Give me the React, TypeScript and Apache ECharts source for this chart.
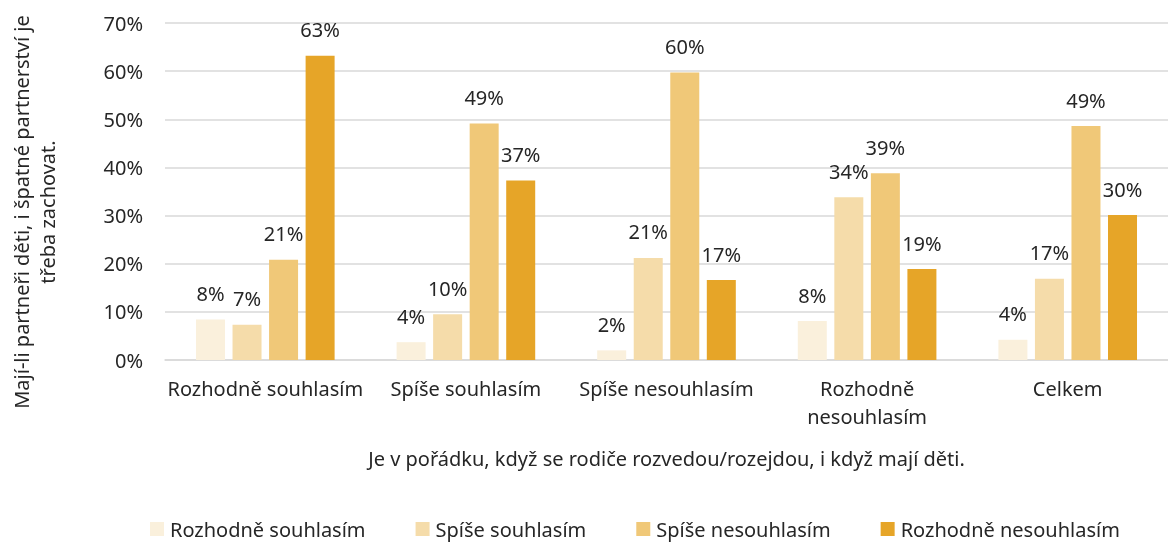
import React, { useEffect, useRef } from "react";
import * as echarts from "echarts";

const categories = ["Rozhodně souhlasím", "Spíše souhlasím", "Spíše nesouhlasím", "Rozhodně\nnesouhlasím", "Celkem"];
const seriesNames = ["Rozhodně souhlasím", "Spíše souhlasím", "Spíše nesouhlasím", "Rozhodně nesouhlasím"];
const s1 = [8.4, 3.7, 2.0, 8.1, 4.2];
const s2 = [7.3, 9.5, 21.2, 33.8, 16.9];
const s3 = [20.8, 49.1, 59.7, 38.8, 48.6];
const s4 = [63.2, 37.3, 16.6, 18.9, 30.1];
const seriesData = [s1, s2, s3, s4];
const colors = ["#FAF0DC", "#F5DCAA", "#F0C878", "#E6A528"];
const xAxisTitle = "Je v pořádku, když se rodiče rozvedou/rozejdou, i když mají děti.";
const yAxisTitle = ["Mají-li partneři děti, i špatné partnerství je", "třeba zachovat."];

const FONT = "Noto Sans";
const FS = 20;

export default function App() {
  const ref = useRef<HTMLDivElement>(null);
  useEffect(() => {
    const chart = echarts.init(ref.current!, null, { renderer: "svg" });
    chart.setOption({
      animation: false,
      color: colors,
      textStyle: { fontFamily: FONT },
      grid: { left: 165, right: -11, top: 23, bottom: 182 },
      legend: {
        bottom: 3,
        left: 150,
        padding: 0,
        itemWidth: 14,
        itemHeight: 14,
        itemGap: 50,
        icon: "rect",
        textStyle: { fontFamily: FONT, fontSize: FS, color: "#262626", padding: [0, 0, 0, 1] },
        data: seriesNames,
      },
      xAxis: {
        type: "category",
        data: categories,
        axisLine: { lineStyle: { color: "#d9d9d9", width: 1.5 } },
        axisTick: { show: false },
        axisLabel: { interval: 0, fontFamily: FONT, fontSize: FS, color: "#262626", margin: 14, lineHeight: 28 },
        name: xAxisTitle,
        nameLocation: "middle",
        nameGap: 88,
        nameTextStyle: { fontFamily: FONT, fontSize: FS, color: "#262626" },
      },
      yAxis: {
        type: "value",
        min: 0,
        max: 70,
        interval: 10,
        axisLine: { show: false },
        axisTick: { show: false },
        splitLine: { lineStyle: { color: "#d9d9d9", width: 1.5 } },
        axisLabel: { fontFamily: FONT, fontSize: FS, color: "#262626", margin: 22, formatter: "{value}%" },
      },
      graphic: yAxisTitle.map((t, i) => ({
        type: "text",
        x: 21 + i * 26,
        y: 212,
        rotation: Math.PI / 2,
        style: {
          text: t,
          fontFamily: FONT,
          fontSize: FS,
          fill: "#262626",
          align: "center",
          verticalAlign: "middle",
        },
      })),
      series: seriesData.map((d, i) => ({
        name: seriesNames[i],
        type: "bar",
        data: d,
        barWidth: 29,
        barGap: "26%",
        label: {
          show: true,
          position: "top",
          distance: 16,
          fontFamily: FONT,
          fontSize: FS,
          color: "#262626",
          formatter: (p: any) => Math.round(p.value) + "%",
        },
      })),
    });
    return () => chart.dispose();
  }, []);
  return <div ref={ref} style={{ position: "fixed", left: 0, top: 0, width: 1168, height: 542 }} />;
}
